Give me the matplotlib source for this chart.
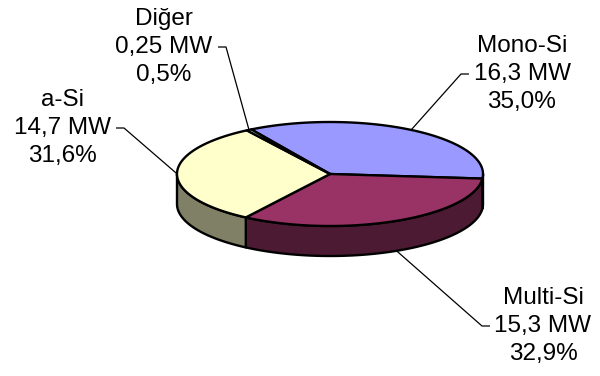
import numpy as np
import matplotlib
matplotlib.use("Agg")
import matplotlib.pyplot as plt
from matplotlib.patches import Polygon

plt.rcParams['font.family'] = ['Liberation Sans', 'DejaVu Sans']

# PV installed capacity by technology (MW)
categories = ["Mono-Si", "Multi-Si", "a-Si", "Diğer"]
capacity_mw = [16.3, 15.3, 14.7, 0.25]
capacity_txt = ["16,3", "15,3", "14,7", "0,25"]
top_colors = ["#9999FF", "#993366", "#FFFFCC", "#CCFFFF"]
side_colors = ["#4C4C80", "#4D1A33", "#808066", "#668080"]

# label block centres (x, y of middle line) and side of leader tick
label_pos = [(522, 74), (543, 326), (62, 128), (164, 47)]
label_side = ["right", "right", "left", "left"]

fig = plt.figure(figsize=(6.0, 3.76), dpi=100)
ax = fig.add_axes([0, 0, 1, 1])
ax.set_xlim(0, 600)
ax.set_ylim(376, 0)
ax.axis("off")

cx, cy, rx, ry, depth = 330.0, 174.0, 153.0, 52.0, 30.0
start_deg = -31.0  # clockwise from 12 o'clock

vals = np.array(capacity_mw)
fracs = vals / vals.sum()
bounds = start_deg + 360.0 * np.concatenate([[0], np.cumsum(fracs)])


def ell(t_deg, dy=0.0):
    t = np.radians(t_deg)
    return cx + rx * np.sin(t), cy - ry * np.cos(t) + dy


# side walls (visible front half: 90..270 deg)
for i in range(len(vals)):
    a, b = bounds[i], bounds[i + 1]
    for off in (-360, 0, 360):
        lo, hi = max(a + off, 90), min(b + off, 270)
        if hi > lo:
            ts = np.linspace(lo, hi, 80)
            xt, yt = ell(ts)
            xb, yb = ell(ts[::-1], depth)
            pts = np.column_stack([np.r_[xt, xb], np.r_[yt, yb]])
            ax.add_patch(Polygon(pts, closed=True, facecolor=side_colors[i],
                                 edgecolor="black", linewidth=1.7,
                                 joinstyle="round", zorder=2))

# top faces
for i in range(len(vals)):
    a, b = bounds[i], bounds[i + 1]
    ts = np.linspace(a, b, max(int((b - a) * 2), 4))
    xs, ys = ell(ts)
    pts = np.column_stack([np.r_[cx, xs], np.r_[cy, ys]])
    ax.add_patch(Polygon(pts, closed=True, facecolor=top_colors[i],
                         edgecolor="black", linewidth=1.7,
                         joinstyle="round", zorder=3))

# labels and leader lines
line_gap = 28
for i, name in enumerate(categories):
    pct = f"{fracs[i] * 100:.1f}".replace(".", ",") + "%"
    lines = [name, f"{capacity_txt[i]} MW", pct]
    lx, ly = label_pos[i]
    for k, s in enumerate(lines):
        ax.text(lx, ly + (k - 1) * line_gap, s, ha="center", va="center",
                fontsize=17.5, color="black", zorder=5)

    mid = 0.5 * (bounds[i] + bounds[i + 1])
    ex, ey = ell(mid)
    if np.cos(np.radians(mid)) < 0:
        ey += depth
    half_w = 51
    if label_side[i] == "right":
        x0 = lx - half_w - 2
        x1 = x0 - 8
    else:
        x0 = lx + half_w + 3
        x1 = x0 + 8
    ax.plot([x0, x1, ex], [ly, ly, ey], color="black", linewidth=0.9,
            zorder=4, solid_capstyle="butt")

fig.savefig("out.png", dpi=100)
